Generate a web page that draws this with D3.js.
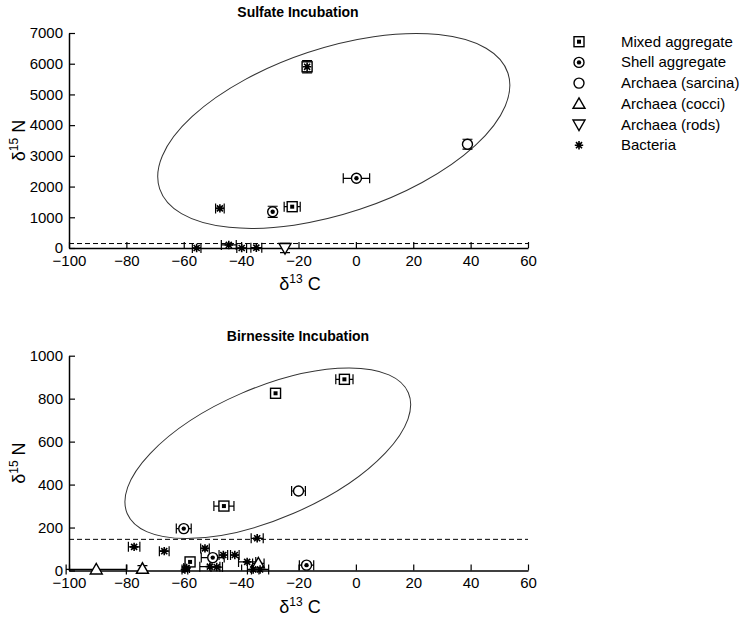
<!DOCTYPE html>
<html><head><meta charset="utf-8">
<script src="https://cdn.jsdelivr.net/npm/d3@7"></script>
<style>body{margin:0;background:#fff}svg{display:block}text{font-family:"Liberation Sans",Arial,Helvetica,sans-serif;fill:#000}</style>
</head><body><svg id="c" width="750" height="618"></svg>
<script>
// ---------- data ----------
const categories = ["Mixed aggregate","Shell aggregate","Archaea (sarcina)","Archaea (cocci)","Archaea (rods)","Bacteria"];
const xTicks = [-100,-80,-60,-40,-20,0,20,40,60];
const sulfateYTicks = [0,1000,2000,3000,4000,5000,6000,7000];
const birnessiteYTicks = [0,200,400,600,800,1000];
const threshold = 145;
// each point: [d13C, d15N, xErr, yErr]
const sulfateMixed    = [[-17,5900,0,200],[-22.2,1345,2.8,0]];
const sulfateShell    = [[0.2,2270,4.6,0],[-29,1180,0,180]];
const sulfateSarcina  = [[38.9,3380,0,160]];
const sulfateCocci    = [];
const sulfateRods     = [[-24.7,0,0,150]];
const sulfateBacteria = [[-17,5900,0,0],[-47.4,1290,1.5,0],[-55.5,0,1.5,0],[-44.3,100,2.6,0],[-39.8,0,1.7,0],[-34.7,10,1.9,0]];
const birnMixed    = [[-28,825,0,0],[-4,890,3,0],[-46,300,3.5,0],[-57.8,40,0,0]];
const birnShell    = [[-60,195,2.6,0],[-49.9,60,4,0],[-17.2,25,2.5,0]];
const birnSarcina  = [[-20,370,2.4,0]];
const birnCocci    = [[-90.5,5,10.5,0],[-74.4,8,0,15],[-34,33,2,0]];
const birnRods     = [];
const birnBacteria = [[-77.3,110,2,0],[-66.8,90,1.7,0],[-52.6,103,1.5,0],[-46.2,72,1.5,0],[-42.2,72,1.5,0],[-37.9,40,3,0],[-34.4,150,2.1,0],[-50.9,18,3.5,0],[-48.5,16,2,0],[-59.6,5,1,0],[-59,12,1,0],[-35.8,5,2,0],[-33.4,5,3,0]];
// ellipse annotations: centre in data units
const sulfateEllipse = {cx:-7.7, cy:3811};
const birnEllipse = {cx:-30.7, cy:546};

// ---------- drawing ----------
const svg = d3.select("#c");
const X0 = 69, X1 = 528;

function marker(g, type, px, py){
  const sw = 1.4;
  if(type===0){
    g.append("rect").attr("x",px-5).attr("y",py-5).attr("width",10).attr("height",10).attr("fill","#fff").attr("stroke","#000").attr("stroke-width",sw);
    g.append("rect").attr("x",px-2).attr("y",py-2).attr("width",4).attr("height",4).attr("fill","#000");
  } else if(type===1){
    g.append("circle").attr("cx",px).attr("cy",py).attr("r",5).attr("fill","#fff").attr("stroke","#000").attr("stroke-width",sw);
    g.append("circle").attr("cx",px).attr("cy",py).attr("r",2.2).attr("fill","#000");
  } else if(type===2){
    g.append("circle").attr("cx",px).attr("cy",py).attr("r",5).attr("fill","#fff").attr("stroke","#000").attr("stroke-width",sw);
  } else if(type===3){
    g.append("path").attr("d",`M${px-6},${py+4.5}L${px+6},${py+4.5}L${px},${py-6}Z`).attr("fill","#fff").attr("stroke","#000").attr("stroke-width",sw);
  } else if(type===4){
    g.append("path").attr("d",`M${px-6},${py-4.5}L${px+6},${py-4.5}L${px},${py+6}Z`).attr("fill","#fff").attr("stroke","#000").attr("stroke-width",sw);
  } else {
    const r=4.2, d=r*0.72;
    g.append("path").attr("d",`M${px-r},${py}L${px+r},${py}M${px},${py-r}L${px},${py+r}M${px-d},${py-d}L${px+d},${py+d}M${px-d},${py+d}L${px+d},${py-d}`).attr("stroke","#000").attr("stroke-width",1.6);
  }
}

function errbars(g, x, y, p){
  const px=x(p[0]), py=y(p[1]), cap=5;
  if(p[2]>0){
    const a=x(p[0]-p[2]), b=x(p[0]+p[2]);
    g.append("path").attr("d",`M${a},${py}L${b},${py}M${a},${py-cap}L${a},${py+cap}M${b},${py-cap}L${b},${py+cap}`).attr("stroke","#000").attr("stroke-width",1.2).attr("fill","none");
  }
  if(p[3]>0){
    const a=y(p[1]-p[3]), b=y(p[1]+p[3]);
    g.append("path").attr("d",`M${px},${a}L${px},${b}M${px-cap},${a}L${px+cap},${a}M${px-cap},${b}L${px+cap},${b}`).attr("stroke","#000").attr("stroke-width",1.2).attr("fill","none");
  }
}

function panel(opt){
  const x = d3.scaleLinear().domain([-100,60]).range([X0,X1]);
  const y = d3.scaleLinear().domain([0,opt.ymax]).range([opt.yBottom,opt.yTop]);
  const g = svg.append("g");
  // title
  g.append("text").attr("x",298).attr("y",opt.titleY).attr("text-anchor","middle").attr("font-weight","bold").attr("font-size",14).text(opt.title);
  // ellipse
  const e = opt.ell;
  g.append("ellipse").attr("cx",0).attr("cy",0).attr("rx",e.rx).attr("ry",e.ry)
    .attr("transform",`translate(${x(e.cx)},${y(e.cy)}) rotate(${-e.ang})`)
    .attr("fill","none").attr("stroke","#333").attr("stroke-width",1);
  // dashed threshold
  g.append("line").attr("x1",X0).attr("x2",X1).attr("y1",y(threshold)).attr("y2",y(threshold))
    .attr("stroke","#000").attr("stroke-width",1).attr("stroke-dasharray","5,3");
  // axes
  const xa = g.append("g").attr("transform",`translate(0,${opt.yBottom})`)
    .call(d3.axisBottom(x).tickValues(xTicks).tickSizeInner(-6).tickSizeOuter(0).tickPadding(7));
  const ya = g.append("g").attr("transform",`translate(${X0},0)`)
    .call(d3.axisLeft(y).tickValues(opt.yTicks).tickFormat(d3.format("d")).tickSizeInner(-6).tickSizeOuter(0).tickPadding(6));
  [xa,ya].forEach(a=>{
    a.selectAll("path").attr("stroke","#000").attr("stroke-width",1.5);
    a.selectAll("line").attr("stroke","#000").attr("stroke-width",1.2);
    a.selectAll("text").attr("font-size",15).attr("font-family","'Liberation Sans',Arial,sans-serif").attr("fill","#000");
  });
  // axis labels
  const xl = g.append("text").attr("x",300).attr("y",opt.yBottom+42).attr("text-anchor","middle").attr("font-size",18);
  xl.append("tspan").text("δ");
  xl.append("tspan").attr("font-size",12).attr("dy",-7).text("13");
  xl.append("tspan").attr("dy",7).text(" C");
  const yl = g.append("text").attr("transform",`translate(25,${(opt.yTop+opt.yBottom)/2}) rotate(-90)`).attr("text-anchor","middle").attr("font-size",18);
  yl.append("tspan").text("δ");
  yl.append("tspan").attr("font-size",12).attr("dy",-7).text("15");
  yl.append("tspan").attr("dy",7).text(" N");
  // points
  const pg = g.append("g");
  opt.series.forEach((s,i)=>{
    s.forEach(p=>{ errbars(pg,x,y,p); });
  });
  opt.series.forEach((s,i)=>{
    s.forEach(p=>{ marker(pg,i,x(p[0]),y(p[1])); });
  });
}

panel({title:"Sulfate Incubation", titleY:17, ymax:7000, yTop:33, yBottom:248, yTicks:sulfateYTicks,
  ell:{cx:sulfateEllipse.cx, cy:sulfateEllipse.cy, rx:183.5, ry:82.6, ang:18.4},
  series:[sulfateMixed,sulfateShell,sulfateSarcina,sulfateCocci,sulfateRods,sulfateBacteria]});
panel({title:"Birnessite Incubation", titleY:341, ymax:1000, yTop:355.7, yBottom:570.5, yTicks:birnessiteYTicks,
  ell:{cx:birnEllipse.cx, cy:birnEllipse.cy, rx:153, ry:65.4, ang:23.3},
  series:[birnMixed,birnShell,birnSarcina,birnCocci,birnRods,birnBacteria]});

// legend
const lg = svg.append("g");
categories.forEach((c,i)=>{
  const yy = 41.7 + i*20.7;
  marker(lg,i,579,yy);
  lg.append("text").attr("x",621).attr("y",yy+5).attr("font-size",15).text(c);
});
</script></body></html>
